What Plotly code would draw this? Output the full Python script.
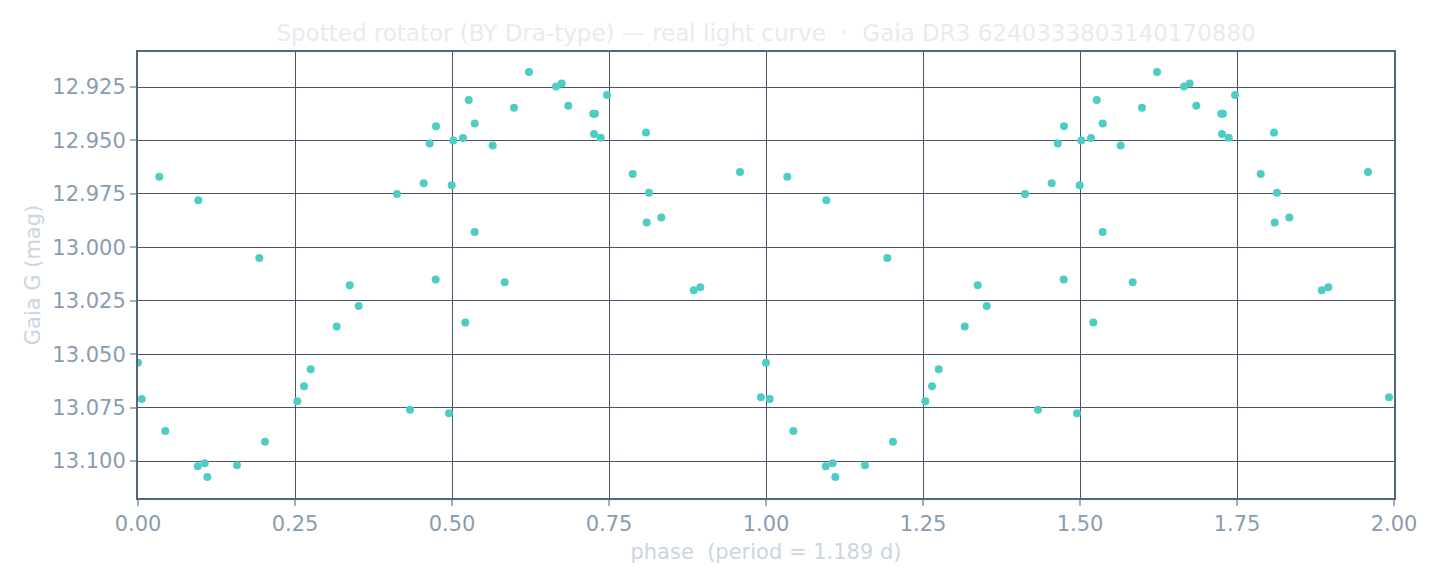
import numpy as np
import plotly.graph_objects as go

# Phase-folded Gaia G photometry (phase in [0,1))
phase = [0.000, 0.0059, 0.0339, 0.0435, 0.0960, 0.0951, 0.1062, 0.1104, 0.1576, 0.1932,
         0.2022, 0.2537, 0.2643, 0.2750, 0.3164, 0.3371, 0.3514, 0.4124, 0.4331, 0.4549,
         0.4645, 0.4740, 0.4745, 0.4952, 0.4995, 0.5021, 0.5175, 0.5266, 0.5361, 0.5361,
         0.5212, 0.5648, 0.5839, 0.5987, 0.6226, 0.6656, 0.6747, 0.6852, 0.7250, 0.7277,
         0.7261, 0.7368, 0.7468, 0.7877, 0.8089, 0.8137, 0.8100, 0.8333, 0.8849, 0.8954,
         0.9586, 0.9920]
gmag = [13.054, 13.071, 12.967, 13.086, 12.978, 13.1025, 13.101, 13.1075, 13.102, 13.005,
        13.091, 13.072, 13.065, 13.057, 13.037, 13.0177, 13.0274, 12.975, 13.076, 12.970,
        12.9514, 13.015, 12.9433, 13.0777, 12.971, 12.950, 12.9489, 12.9311, 12.942, 12.9928,
        13.0352, 12.9523, 13.0163, 12.9347, 12.918, 12.9247, 12.9233, 12.9338, 12.9375, 12.9375,
        12.947, 12.9487, 12.9287, 12.9657, 12.9463, 12.9745, 12.9884, 12.9861, 13.0201, 13.0187,
        12.9648, 13.0702]

x_ticks = [0.0, 0.25, 0.5, 0.75, 1.0, 1.25, 1.5, 1.75, 2.0]
y_ticks = [12.925, 12.950, 12.975, 13.000, 13.025, 13.050, 13.075, 13.100]

ph = np.array(phase)
mg = np.array(gmag)
x_all = np.concatenate([ph, ph + 1.0])
y_all = np.concatenate([mg, mg])

fig = go.Figure()
fig.add_trace(go.Scatter(
    x=x_all, y=y_all, mode="markers",
    marker=dict(color="#4ECDC4", size=8, line=dict(width=0)),
    showlegend=False,
))

FONT = "DejaVu Sans"
fig.update_layout(
    width=1440, height=585,
    paper_bgcolor="white", plot_bgcolor="white",
    margin=dict(l=138, r=46, t=52, b=87),
    font=dict(family=FONT),
    title=dict(
        text="Spotted rotator (BY Dra-type) — real light curve  ·  Gaia DR3 6240333803140170880",
        x=0.532, xanchor="center", y=0.943, yanchor="middle",
        font=dict(family=FONT, size=23, color="#e6ebf2"),
    ),
)
fig.update_xaxes(
    range=[0, 2.0], tickvals=x_ticks, ticktext=[f"{v:.2f}" for v in x_ticks],
    showgrid=True, gridcolor="#4a5568", gridwidth=1,
    showline=True, linecolor="#55657a", linewidth=2, mirror=True,
    ticks="outside", ticklen=6, tickcolor="#9fb0c3", tickwidth=2,
    tickfont=dict(family=FONT, size=21, color="#8a9cb0"),
    title=dict(text="phase  (period = 1.189 d)", standoff=9,
               font=dict(family=FONT, size=21, color="#cbd5e1")),
    zeroline=False,
)
fig.update_yaxes(
    range=[13.1173, 12.9086], tickvals=y_ticks, ticktext=[f"{v:.3f}" for v in y_ticks],
    showgrid=True, gridcolor="#4a5568", gridwidth=1,
    showline=True, linecolor="#55657a", linewidth=2, mirror=True,
    ticks="outside", ticklen=6, tickcolor="#9fb0c3", tickwidth=2,
    tickfont=dict(family=FONT, size=21, color="#8a9cb0"),
    title=dict(text="Gaia G (mag)", standoff=6,
               font=dict(family=FONT, size=21, color="#cbd5e1")),
    zeroline=False,
)

fig.write_html("out.html")
